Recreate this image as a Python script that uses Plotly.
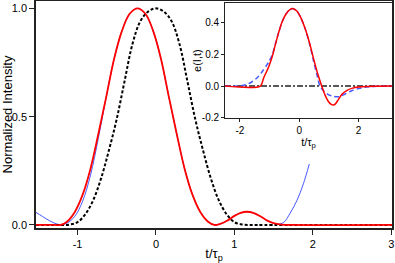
import plotly.graph_objects as go

# ---- main panel data (t / tau_p, normalized intensity) ----
t_black = [-1.53, -1.3, -1.2, -1.1, -1.0, -0.9, -0.8, -0.7, -0.6, -0.5, -0.4, -0.3, -0.2, -0.1, 0.0,
           0.1, 0.2, 0.3, 0.4, 0.5, 0.6, 0.7, 0.8, 0.9, 1.0, 1.1, 1.2, 1.3, 3.01]
i_black = [0.0, 0.0, 0.0, 0.002, 0.013, 0.05, 0.115, 0.215, 0.345, 0.49, 0.665, 0.835, 0.94, 0.985, 1.0,
           0.985, 0.94, 0.835, 0.665, 0.49, 0.345, 0.215, 0.115, 0.05, 0.013, 0.002, 0.0, 0.0, 0.0]

t_red = [-1.53, -1.3, -1.215, -1.135, -1.035, -0.935, -0.835, -0.735, -0.635, -0.535, -0.435,
         -0.335, -0.235, -0.135, -0.035, 0.065, 0.165, 0.265, 0.365, 0.465, 0.565, 0.665,
         0.745, 0.82, 0.9, 1.0, 1.08, 1.16, 1.24, 1.33, 1.42, 1.5, 1.6, 1.75, 3.01]
i_red = [0.0, 0.0, 0.0, 0.015, 0.06, 0.14, 0.26, 0.42, 0.59, 0.765, 0.895,
         0.975, 1.0, 0.975, 0.895, 0.765, 0.59, 0.42, 0.26, 0.14, 0.06, 0.015,
         0.0, 0.005, 0.018, 0.042, 0.056, 0.061, 0.056, 0.04, 0.02, 0.008, 0.002, 0.0, 0.0]

t_blue = [-1.53, -1.45, -1.35, -1.25, -1.2, -1.135, -1.035, -0.935, -0.835, -0.735, -0.635,
          -0.535, -0.435, -0.335, -0.235, -0.135, -0.035, 0.065, 0.165, 0.265, 0.365, 0.465,
          0.565, 0.665, 0.745, 0.82, 0.9, 1.0, 1.08, 1.16, 1.24, 1.33, 1.42, 1.5, 1.56, 1.63,
          1.71, 1.8, 1.88, 1.955]
i_blue = [0.058, 0.04, 0.018, 0.003, 0.002, 0.008, 0.04, 0.11, 0.23, 0.4, 0.59,
          0.765, 0.895, 0.975, 1.0, 0.975, 0.895, 0.765, 0.59, 0.42, 0.26, 0.14,
          0.06, 0.015, 0.0, 0.005, 0.018, 0.042, 0.056, 0.061, 0.056, 0.04, 0.02, 0.008, 0.004, 0.012,
          0.054, 0.115, 0.19, 0.281]

# ---- inset data (t / tau_p, field e(I,t)) ----
t_ired = [-2.5, -1.31, -1.2, -1.03, -0.9, -0.81, -0.7, -0.58, -0.45, -0.32, -0.2, -0.08, 0.05,
          0.2, 0.35, 0.48, 0.62, 0.76, 0.88, 0.99, 1.08, 1.15, 1.23, 1.32, 1.45, 1.6, 1.8, 2.0,
          2.3, 3.13]
e_ired = [0.0, 0.0, 0.05, 0.12, 0.19, 0.255, 0.33, 0.4, 0.45, 0.478, 0.485, 0.47, 0.43,
          0.36, 0.27, 0.175, 0.08, 0.0, -0.06, -0.098, -0.115, -0.119, -0.11, -0.085, -0.05,
          -0.028, -0.013, -0.006, -0.002, 0.0]

t_iblue = [-2.5, -2.05, -1.8, -1.59, -1.4, -1.25, -1.1, -1.03, -0.9, -0.81, -0.7, -0.58,
           -0.45, -0.32, -0.2, -0.08, 0.05, 0.2, 0.35, 0.48, 0.6, 0.7, 0.82, 0.95, 1.1, 1.32,
           1.55, 1.77, 2.0, 2.2, 2.5, 3.13]
e_iblue = [0.0, 0.0, 0.008, 0.027, 0.055, 0.09, 0.13, 0.15, 0.2, 0.26, 0.33, 0.4,
           0.45, 0.478, 0.485, 0.47, 0.43, 0.36, 0.265, 0.16, 0.07, 0.0, -0.03, -0.05, -0.062,
           -0.067, -0.05, -0.029, -0.016, -0.008, -0.002, 0.0]

t_izero = [-2.5, 3.13]
e_izero = [0.0, 0.0]

main_xticks = [-1, 0, 1, 2, 3]
main_xlabels = ["-1", "0", "1", "2", "3"]
main_yticks = [0, 0.5, 1.0]
main_ylabels = ["0.0", "0.5", "1.0"]
ins_xticks = [-2, 0, 2]
ins_xlabels = ["-2", "0", "2"]
ins_yticks = [-0.2, 0.0, 0.2, 0.4]
ins_ylabels = ["-0.2", "0.0", "0.2", "0.4"]

FONT = "Liberation Sans, Arial, Helvetica, sans-serif"
RED = "rgb(255,0,0)"
BLUE = "rgb(70,90,255)"

fig = go.Figure()
fig.add_trace(go.Scatter(x=t_blue, y=i_blue, mode="lines",
                         line=dict(color=BLUE, width=1, shape="spline", smoothing=1)))
fig.add_trace(go.Scatter(x=t_black, y=i_black, mode="lines",
                         line=dict(color="black", width=2, dash="3px,2px", shape="spline", smoothing=1)))
fig.add_trace(go.Scatter(x=t_red, y=i_red, mode="lines",
                         line=dict(color=RED, width=1.8, shape="spline", smoothing=1)))

fig.add_trace(go.Scatter(x=t_izero, y=e_izero, mode="lines", xaxis="x2", yaxis="y2",
                         line=dict(color="#222", width=1.5, dash="6px,2px,2px,2px")))
fig.add_trace(go.Scatter(x=t_iblue, y=e_iblue, mode="lines", xaxis="x2", yaxis="y2",
                         line=dict(color=BLUE, width=1.5, dash="5px,3px", shape="spline", smoothing=0.8)))
fig.add_trace(go.Scatter(x=t_ired, y=e_ired, mode="lines", xaxis="x2", yaxis="y2",
                         line=dict(color=RED, width=1.5, shape="spline", smoothing=0.8)))

axis_common = dict(showgrid=False, zeroline=False, showline=True, mirror=True, automargin=False,
                   linecolor="#222", ticks="outside", tickcolor="#222")

fig.update_layout(
    width=395, height=263, autosize=False,
    margin=dict(l=36, r=3, t=1, b=35),
    paper_bgcolor="white", plot_bgcolor="white",
    showlegend=False,
    font=dict(family=FONT, color="black"),
    xaxis=dict(domain=[0, 1], range=[-1.53, 3.01], tickvals=main_xticks, ticktext=main_xlabels,
               linewidth=1.5, ticklen=5, tickwidth=1, tickfont=dict(size=11),
               title=dict(text="t/τ<sub>p</sub>", font=dict(size=13), standoff=0),
               **axis_common),
    yaxis=dict(domain=[0, 1], range=[-0.014, 1.034], tickvals=main_yticks, ticktext=main_ylabels,
               linewidth=1.5, ticklen=5, tickwidth=1, tickfont=dict(size=11),
               title=dict(text="Normalized Intensity", font=dict(size=13), standoff=2),
               **axis_common),
    xaxis2=dict(domain=[0.531, 1.0], anchor="y2", range=[-2.5, 3.13], tickvals=ins_xticks,
                ticktext=ins_xlabels, linewidth=1, ticklen=3, tickwidth=1, tickfont=dict(size=10),
                title=dict(text="t/τ<sub>p</sub>", font=dict(size=11), standoff=0),
                **axis_common),
    yaxis2=dict(domain=[0.4846, 0.991], anchor="x2", range=[-0.2, 0.52], tickvals=ins_yticks,
                ticktext=ins_ylabels, linewidth=1, ticklen=3, tickwidth=1, tickfont=dict(size=10),
                **axis_common),
    annotations=[dict(text="e(I,t)", xref="paper", yref="paper", x=0.452, y=0.74,
                      xanchor="center", yanchor="middle", textangle=-90, showarrow=False,
                      font=dict(size=11))],
)

fig.write_html("out.html", config={"displayModeBar": False},
               post_script="document.body.style.margin='0px';document.body.style.overflow='hidden';")
